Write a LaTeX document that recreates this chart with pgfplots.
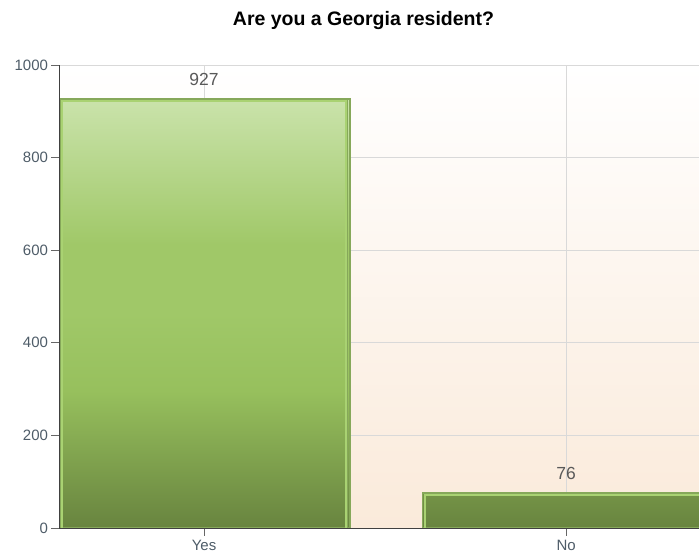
\documentclass[border=0pt]{standalone}
\usepackage{pgfplots}
\pgfplotsset{compat=1.18}
\usepackage{fontspec}
\setmainfont{Liberation Sans}

\definecolor{barlight}{HTML}{CAE3AB}
\definecolor{barmid}{HTML}{A0C868}
\definecolor{barmid2}{HTML}{97C05D}
\definecolor{bardark}{HTML}{68843F}
\definecolor{baredge}{HTML}{86A85A}
\definecolor{barinner}{HTML}{A9D272}
\definecolor{bgpeach}{HTML}{FAEADA}
\definecolor{ticktext}{HTML}{4E5C68}
\definecolor{gridcol}{HTML}{D9D9D9}

% shading is fitted so that the bar spans 25bp..75bp
\pgfdeclareverticalshading{barshade}{100bp}{
  color(0bp)=(bardark); color(25bp)=(bardark); color(41bp)=(barmid2);
  color(50bp)=(barmid); color(58bp)=(barmid); color(75bp)=(barlight);
  color(100bp)=(barlight)}

\begin{document}
\begin{tikzpicture}
\useasboundingbox (0,0) rectangle (699pt,556pt);
\begin{axis}[
    at={(59pt,28pt)}, anchor=south west,
    scale only axis,
    width=640pt, height=463pt,
    xmin=-0.4006, xmax=1.367,
    ymin=0, ymax=1000,
    ytick={0,200,...,1000},
    xtick={0,1},
    xticklabels={Yes,No},
    axis lines*=left,
    axis line style={black!75, line width=0.9pt},
    grid=major,
    grid style={gridcol, line width=0.8pt},
    tick style={black!60, line width=0.8pt},
    tick align=outside,
    major tick length=8pt,
    ticklabel style={text=ticktext, font=\fontsize{15}{17}\selectfont},
    /pgf/number format/assume math mode=true,
    /pgf/number format/1000 sep={},
    xticklabel style={yshift=-1pt},
    yticklabel style={xshift=0.5pt},
    axis background/.style={top color=white, bottom color=bgpeach},
    clip=true,
]
\addplot[
    ybar, bar width=0.793, bar shift=0pt,
    draw=baredge, line width=1.6pt,
    shading=barshade,
    preaction={fill=black!35, transform canvas={xshift=2.5pt}},
    nodes near coords,
    every node near coord/.append style={text=black!65, font=\fontsize{17.5}{19}\selectfont, yshift=9pt},
] coordinates {(0,927) (1,76)};
\addplot[
    ybar, bar width=0.782, bar shift=0pt,
    draw=barinner, line width=2pt, fill=none,
    yshift=-2pt,
] coordinates {(0,927) (1,76)};
\end{axis}
\node[font=\bfseries\fontsize{19.5}{22}\selectfont] at (363.5pt,535pt) {Are you a Georgia resident?};
\end{tikzpicture}
\end{document}
